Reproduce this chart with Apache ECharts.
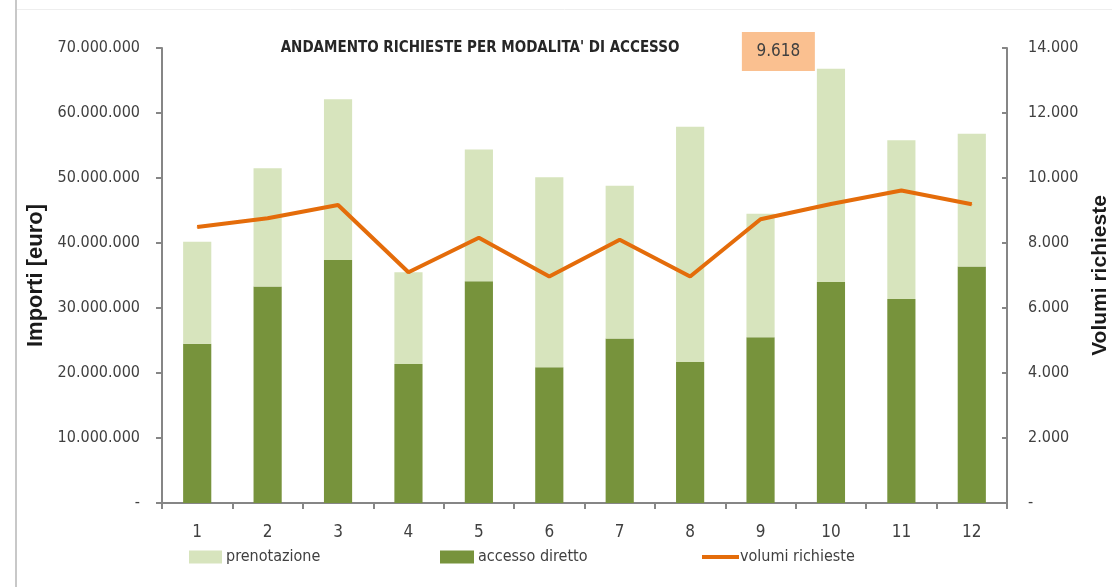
<!DOCTYPE html>
<html>
<head>
<meta charset="utf-8">
<script src="https://cdn.jsdelivr.net/npm/echarts@6/dist/echarts.min.js"></script>
<style>html,body{margin:0;padding:0;background:#fff}#c{width:1112px;height:587px}</style>
</head>
<body>
<div id="c"></div>
<script>
const categories = ['1','2','3','4','5','6','7','8','9','10','11','12'];
const accessoDiretto = [24500000,33300000,37400000,21400000,34100000,20900000,25300000,21700000,25500000,34000000,31400000,36400000];
const prenotazione = [15700000,18200000,24700000,14100000,20300000,29200000,23500000,36200000,19000000,32800000,24400000,20400000];
const volumiRichieste = [8490,8760,9170,7100,8160,6970,8100,6970,8730,9200,9618,9190];
const leftTickLabels = ['-','10.000.000','20.000.000','30.000.000','40.000.000','50.000.000','60.000.000','70.000.000'];
const rightTickLabels = ['-','2.000','4.000','6.000','8.000','10.000','12.000','14.000'];
const titleText = "ANDAMENTO RICHIESTE PER MODALITA' DI ACCESSO";

const FONT = "'Liberation Sans Narrow','DejaVu Sans Condensed','Liberation Sans',sans-serif";
const BOLDFONT = "'Liberation Sans','DejaVu Sans',sans-serif";
const TXT = '#404040';
const AX = '#868686';

const maxIdx = volumiRichieste.indexOf(Math.max(...volumiRichieste));
const fmtIt = v => String(v).replace(/\B(?=(\d{3})+(?!\d))/g, '.');
const lineData = volumiRichieste.map((v, i) => i === maxIdx ? {
  value: v,
  label: {
    show: true, position: 'inside', offset: [-123, -139],
    formatter: () => fmtIt(v),
    backgroundColor: '#FAC090', color: TXT, fontFamily: FONT, fontSize: 17,
    width: 73, height: 32, lineHeight: 32, align: 'center',
    padding: [7, 0, 0, 0]
  }
} : v);

const chart = echarts.init(document.getElementById('c'), null, {renderer: 'canvas'});
chart.setOption({
  animation: false,
  backgroundColor: '#fff',
  title: {
    text: titleText, left: 480, top: 41, textAlign: 'center', padding: 0,
    textStyle: {fontFamily: FONT, fontWeight: 'bold', fontSize: 15, color: '#262626'}
  },
  graphic: [
    {type: 'line', shape: {x1: 16, y1: 0, x2: 16, y2: 587}, style: {stroke: '#c8c8c8', lineWidth: 2}},
    {type: 'line', shape: {x1: 17, y1: 9.5, x2: 1112, y2: 9.5}, style: {stroke: '#eeeeee', lineWidth: 1}}
  ],
  legend: [
    {data: [{name: 'prenotazione', icon: 'rect'}], left: 189, top: 549, padding: 0, itemWidth: 33, itemHeight: 13,
      textStyle: {fontFamily: FONT, fontSize: 16, color: TXT, padding: [0, 0, 0, -1]}},
    {data: [{name: 'accesso diretto', icon: 'rect'}], left: 440, top: 549, padding: 0, itemWidth: 34, itemHeight: 13,
      textStyle: {fontFamily: FONT, fontSize: 16, color: TXT, padding: [0, 0, 0, -1]}},
    {data: [{name: 'volumi richieste', icon: 'rect'}], left: 702, top: 549, padding: 0, itemWidth: 37, itemHeight: 4,
      textStyle: {fontFamily: FONT, fontSize: 16, color: TXT, padding: [0, 0, 0, -4]}}
  ],
  grid: {left: 162, right: 105, top: 48, bottom: 84, containLabel: false, outerBoundsMode: 'none'},
  xAxis: {
    type: 'category', data: categories,
    axisLine: {lineStyle: {color: AX, width: 2}},
    axisTick: {show: true, length: 6, lineStyle: {color: AX, width: 2}},
    axisLabel: {fontFamily: FONT, fontSize: 17, color: TXT, margin: 21}
  },
  yAxis: [
    {
      type: 'value', min: 0, max: 70000000, interval: 10000000,
      name: 'Importi [euro]', nameLocation: 'middle', nameGap: 107, nameRotate: 90,
      nameTextStyle: {fontFamily: BOLDFONT, fontWeight: 'bold', fontSize: 22, color: '#1a1a1a'},
      axisLine: {show: true, lineStyle: {color: AX, width: 2}},
      axisTick: {show: true, length: 6, lineStyle: {color: AX, width: 2}},
      splitLine: {show: false},
      axisLabel: {fontFamily: FONT, fontSize: 16, color: TXT, margin: 22,
        formatter: v => leftTickLabels[Math.round(v / 10000000)]}
    },
    {
      type: 'value', min: 0, max: 14000, interval: 2000, position: 'right',
      name: 'Volumi richieste', nameLocation: 'middle', nameGap: 75, nameRotate: 90,
      nameTextStyle: {fontFamily: BOLDFONT, fontWeight: 'bold', fontSize: 21, color: '#1a1a1a'},
      axisLine: {show: true, lineStyle: {color: AX, width: 2}},
      axisTick: {show: true, inside: true, length: 5, lineStyle: {color: AX, width: 2}},
      splitLine: {show: false},
      axisLabel: {fontFamily: FONT, fontSize: 16, color: TXT, margin: 21,
        formatter: v => rightTickLabels[Math.round(v / 2000)]}
    }
  ],
  series: [
    {name: 'accesso diretto', type: 'bar', stack: 'tot', data: accessoDiretto, barWidth: '40%',
      itemStyle: {color: '#77933C'}},
    {name: 'prenotazione', type: 'bar', stack: 'tot', data: prenotazione, barWidth: '40%',
      itemStyle: {color: '#D7E4BD'}},
    {name: 'volumi richieste', type: 'line', yAxisIndex: 1, data: lineData,
      symbol: 'circle', symbolSize: 1, showSymbol: true,
      lineStyle: {color: '#E46C0A', width: 4}, itemStyle: {color: '#E46C0A'}, z: 5}
  ]
});
</script>
</body>
</html>
